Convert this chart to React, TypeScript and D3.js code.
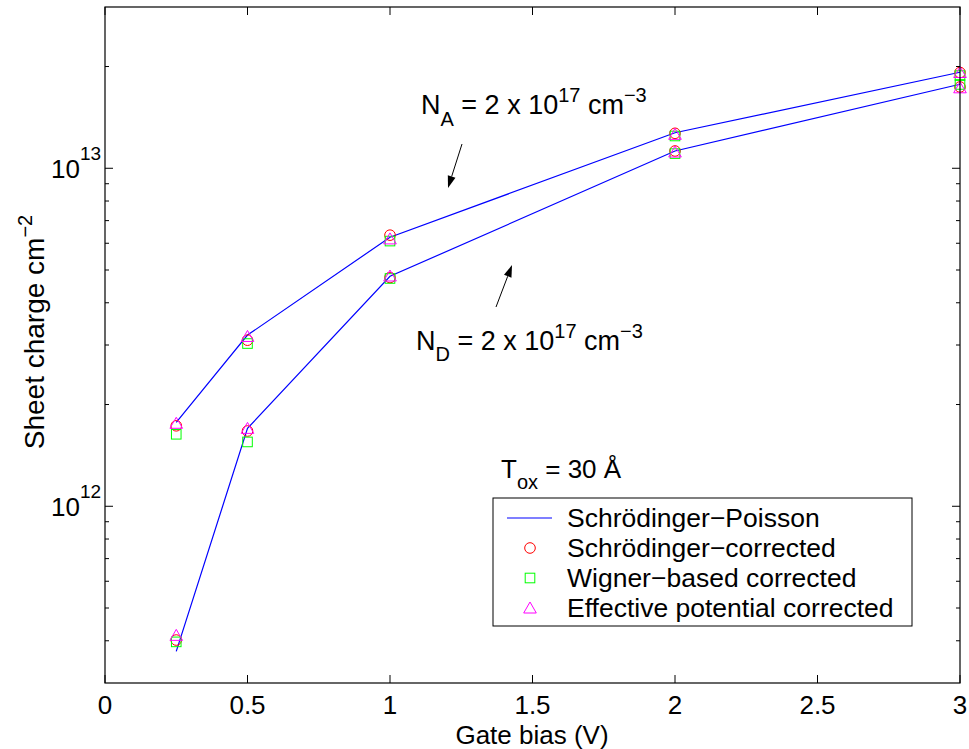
import React from "react";
import * as d3 from "d3";

const gateBias = [0.25, 0.5, 1, 2, 3];
const naPoisson = [1.77e12, 3.21e12, 6.25e12, 1.274e13, 1.923e13];
const naSchrod = [1.73e12, 3.1e12, 6.34e12, 1.269e13, 1.92e13];
const naWigner = [1.633e12, 3.03e12, 6.09e12, 1.246e13, 1.88e13];
const naEffective = [1.76e12, 3.18e12, 6.18e12, 1.26e13, 1.92e13];
const ndPoisson = [3.72e11, 1.7e12, 4.79e12, 1.125e13, 1.772e13];
const ndSchrod = [4.02e11, 1.67e12, 4.75e12, 1.125e13, 1.74e13];
const ndWigner = [3.97e11, 1.55e12, 4.72e12, 1.105e13, 1.77e13];
const ndEffective = [4.15e11, 1.7e12, 4.8e12, 1.117e13, 1.73e13];

const xTicks = [0, 0.5, 1, 1.5, 2, 2.5, 3];
const yMajor = [1e12, 1e13];
const yMinor = [4e11, 5e11, 6e11, 7e11, 8e11, 9e11, 2e12, 3e12, 4e12, 5e12, 6e12, 7e12, 8e12, 9e12, 2e13];
const legendLabels = [
  "Schrödinger−Poisson",
  "Schrödinger−corrected",
  "Wigner−based corrected",
  "Effective potential corrected",
];

const W = 969, H = 749;
const L = 105, R = 960, T = 7, B = 683;
const FONT = "'Liberation Sans', Arial, Helvetica, sans-serif";

export default function App() {
  const x = d3.scaleLinear().domain([0, 3]).range([L, R]);
  const y = d3.scaleLog().domain([3e11, 3e13]).range([B, T]);
  const line = d3.line<number>().x((_, i) => x(gateBias[i])).y((d) => y(d));

  const circle = (cx: number, cy: number, k: string) => (
    <circle key={k} cx={cx} cy={cy} r={5.3} fill="none" stroke="#ff0000" strokeWidth={1} />
  );
  const square = (cx: number, cy: number, k: string) => (
    <rect key={k} x={cx - 4.8} y={cy - 4.8} width={9.6} height={9.6} fill="none" stroke="#00ff00" strokeWidth={1} />
  );
  const tri = (cx: number, cy: number, k: string) => (
    <path key={k} d={`M${cx},${cy - 6}L${cx + 6.3},${cy + 5}L${cx - 6.3},${cy + 5}Z`} fill="none" stroke="#ff00ff" strokeWidth={1} />
  );

  const arrow = (x1: number, y1: number, x2: number, y2: number) => {
    const a = Math.atan2(y2 - y1, x2 - x1);
    const len = 12, hw = 4;
    const bx = x2 - len * Math.cos(a), by = y2 - len * Math.sin(a);
    const px = -Math.sin(a) * hw, py = Math.cos(a) * hw;
    return (
      <g>
        <line x1={x1} y1={y1} x2={bx} y2={by} stroke="#000" strokeWidth={1} />
        <path d={`M${x2},${y2}L${bx + px},${by + py}L${bx - px},${by - py}Z`} fill="#000" />
      </g>
    );
  };

  const legX = 493, legY = 498, legW = 419, legH = 128;
  const rowY = (i: number) => 518 + i * 30;

  return (
    <svg width={W} height={H} style={{ position: "absolute", left: 0, top: 0, background: "#fff" }} fontFamily={FONT}>
      <rect x={0} y={0} width={W} height={H} fill="#fff" />
      {/* lines */}
      <path d={line(naPoisson) || ""} fill="none" stroke="#0000ff" strokeWidth={1.2} />
      <path d={line(ndPoisson) || ""} fill="none" stroke="#0000ff" strokeWidth={1.2} />
      {/* markers */}
      {naSchrod.map((v, i) => circle(x(gateBias[i]), y(v), "nac" + i))}
      {ndSchrod.map((v, i) => circle(x(gateBias[i]), y(v), "ndc" + i))}
      {naWigner.map((v, i) => square(x(gateBias[i]), y(v), "nas" + i))}
      {ndWigner.map((v, i) => square(x(gateBias[i]), y(v), "nds" + i))}
      {naEffective.map((v, i) => tri(x(gateBias[i]), y(v), "nat" + i))}
      {ndEffective.map((v, i) => tri(x(gateBias[i]), y(v), "ndt" + i))}

      {/* axes box */}
      <rect x={L} y={T} width={R - L} height={B - T} fill="none" stroke="#000" strokeWidth={1.2} />
      {xTicks.map((t) => (
        <g key={"xt" + t}>
          <line x1={x(t)} x2={x(t)} y1={B} y2={B - 8} stroke="#000" />
          <line x1={x(t)} x2={x(t)} y1={T} y2={T + 8} stroke="#000" />
          <text x={x(t)} y={714} textAnchor="middle" fontSize={26} fill="#000">{t}</text>
        </g>
      ))}
      {yMajor.map((t) => (
        <g key={"ym" + t}>
          <line x1={L} x2={L + 8} y1={y(t)} y2={y(t)} stroke="#000" />
          <line x1={R} x2={R - 8} y1={y(t)} y2={y(t)} stroke="#000" />
          <text x={80} y={y(t) + 10} textAnchor="end" fontSize={26} fill="#000">10</text>
          <text x={80} y={y(t) - 8} textAnchor="start" fontSize={19} fill="#000">{Math.round(Math.log10(t))}</text>
        </g>
      ))}
      {yMinor.map((t) => (
        <g key={"yn" + t}>
          <line x1={L} x2={L + 4} y1={y(t)} y2={y(t)} stroke="#000" />
          <line x1={R} x2={R - 4} y1={y(t)} y2={y(t)} stroke="#000" />
        </g>
      ))}

      {/* axis labels */}
      <text x={532} y={744} textAnchor="middle" fontSize={26} fill="#000">Gate bias (V)</text>
      <text transform={`translate(44,332) rotate(-90)`} textAnchor="middle" fontSize={28} fill="#000">
        Sheet charge cm<tspan dy={-12} fontSize={20}>−2</tspan>
      </text>

      {/* annotations */}
      <text x={421} y={114} fontSize={27} fill="#000">
        N<tspan dy={12} fontSize={20}>A</tspan>
        <tspan dy={-12}> = 2 x 10</tspan>
        <tspan dy={-12} fontSize={20}>17</tspan>
        <tspan dy={12}> cm</tspan>
        <tspan dy={-12} fontSize={20}>−3</tspan>
      </text>
      {arrow(462, 144, 448, 188)}
      <text x={416} y={350} fontSize={27} fill="#000">
        N<tspan dy={11} fontSize={20}>D</tspan>
        <tspan dy={-11}> = 2 x 10</tspan>
        <tspan dy={-12} fontSize={20}>17</tspan>
        <tspan dy={12}> cm</tspan>
        <tspan dy={-12} fontSize={20}>−3</tspan>
      </text>
      {arrow(496, 307, 512, 265)}
      <text x={501} y={478} fontSize={26} fill="#000">
        T<tspan dy={11} fontSize={20}>ox</tspan>
        <tspan dy={-11}> = 30 Å</tspan>
      </text>

      {/* legend */}
      <rect x={legX} y={legY} width={legW} height={legH} fill="#fff" stroke="#000" strokeWidth={1} />
      <line x1={507} x2={552} y1={rowY(0)} y2={rowY(0)} stroke="#0000ff" strokeWidth={1.2} />
      {circle(530, rowY(1), "lc")}
      {square(530, rowY(2), "ls")}
      {tri(530, rowY(3), "lt")}
      {legendLabels.map((s, i) => (
        <text key={s} x={567} y={rowY(i) + 9} fontSize={26.5} fill="#000">{s}</text>
      ))}
    </svg>
  );
}
